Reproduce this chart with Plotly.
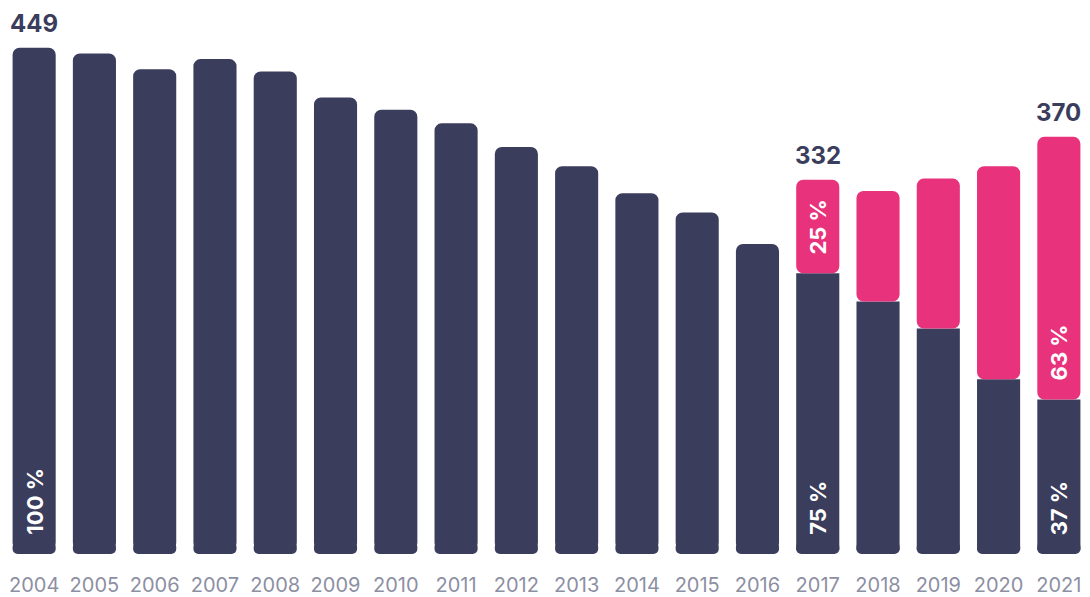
import plotly.graph_objects as go

years = [str(y) for y in range(2004, 2022)]
totals = [449, 444, 430, 439, 428, 405, 394, 382, 361, 344, 320, 303, 275,
          332, 322, 333, 344, 370]
# dark (navy) part for 2017-2021; earlier years are entirely navy
split_years = ["2017", "2018", "2019", "2020", "2021"]
dark_parts = [249, 224, 200, 155, 137]
labeled_years = ["2004", "2017", "2021"]

NAVY = "#3b3d5c"
PINK = "#e9327c"
TEXT_NAVY = "#3b3d5c"
GRAY = "#8d8fa3"

PLOT_H = 557           # plot-area height in px
Y_MAX = 491.4          # top of y range
px = Y_MAX / PLOT_H    # data units per pixel
cap_top = 12 * px      # rounded bottom cap piece reaches 12 px up
body_base = 4 * px     # bar bodies start 4 px up (hidden overlap with cap)

dark = dict(zip(split_years, dark_parts))
tot = dict(zip(years, totals))
full_years = [y for y in years if y not in dark]

fig = go.Figure()
common = dict(hoverinfo="skip", showlegend=False, opacity=1)

# rounded bottom caps (drawn downward so the rounded end sits at 0)
fig.add_trace(go.Bar(
    x=years, base=[cap_top] * len(years), y=[-cap_top] * len(years),
    marker=dict(color=NAVY, cornerradius=5, line=dict(width=0)), **common,
))
# fully navy bars (rounded top)
fig.add_trace(go.Bar(
    x=full_years, base=[body_base] * len(full_years),
    y=[tot[y] - body_base for y in full_years],
    marker=dict(color=NAVY, cornerradius=7, line=dict(width=0)), **common,
))
# navy part of split bars (square top)
fig.add_trace(go.Bar(
    x=split_years, base=[body_base] * len(split_years),
    y=[dark[y] - body_base for y in split_years],
    marker=dict(color=NAVY, line=dict(width=0)), **common,
))
# pink part of split bars (rounded top)
fig.add_trace(go.Bar(
    x=split_years, base=[dark[y] for y in split_years],
    y=[tot[y] - dark[y] for y in split_years],
    marker=dict(color=PINK, cornerradius=7, line=dict(width=0)), **common,
))

annotations = []
for y in labeled_years:
    xi = years.index(y)
    annotations.append(dict(
        x=xi, y=tot[y], text=f"<b>{tot[y]}</b>", showarrow=False,
        yanchor="bottom", xanchor="center", yshift=8,
        font=dict(family="Inter", size=24, color=TEXT_NAVY),
    ))
    d = dark.get(y, tot[y])
    pct_dark = round(100 * d / tot[y])
    annotations.append(dict(
        x=xi, y=0, text=f"<b>{pct_dark} %</b>", showarrow=False,
        textangle=-90, yanchor="bottom", xanchor="center", yshift=17,
        font=dict(family="Inter", size=22, color="white"),
    ))
    if y in dark:
        annotations.append(dict(
            x=xi, y=d, text=f"<b>{100 - pct_dark} %</b>", showarrow=False,
            textangle=-90, yanchor="bottom", xanchor="center", yshift=17,
            font=dict(family="Inter", size=22, color="white"),
        ))

fig.update_layout(
    width=1090, height=597,
    margin=dict(l=4, r=1, t=0, b=597 - PLOT_H),
    paper_bgcolor="white", plot_bgcolor="white",
    barmode="overlay", bargap=0.285,
    xaxis=dict(
        type="category", categoryorder="array", categoryarray=years,
        range=[-0.5, len(years) - 0.5], autorange=False,
        showgrid=False, zeroline=False, showline=False, ticks="",
        ticklabelstandoff=17,
        tickfont=dict(family="Inter", size=20, color=GRAY),
        fixedrange=True,
    ),
    yaxis=dict(
        range=[0, Y_MAX], visible=False, showgrid=False, zeroline=False,
        fixedrange=True,
    ),
    annotations=annotations,
)

fig.write_html("out.html")
